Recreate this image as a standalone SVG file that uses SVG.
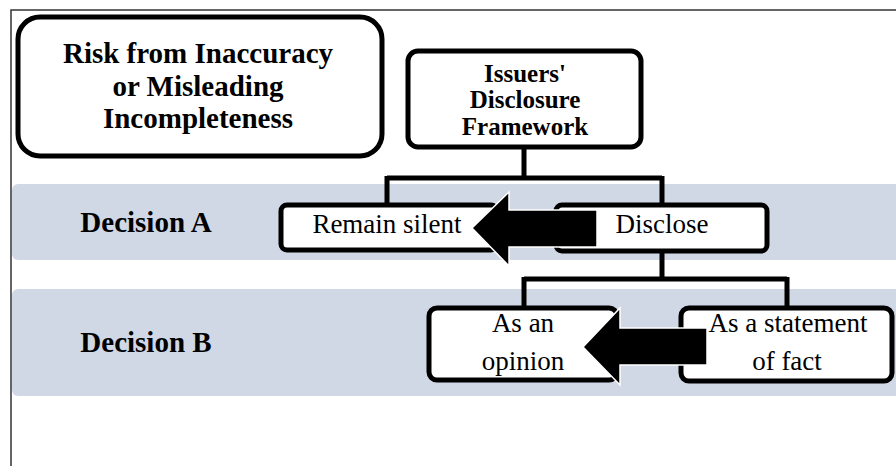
<svg xmlns="http://www.w3.org/2000/svg" width="896" height="466" viewBox="0 0 896 466">
<style>
.band{fill:#D0D7E5}
.box{fill:#fff;stroke:#000;stroke-width:5}
.conn{fill:none;stroke:#000;stroke-width:5}
.arrow{fill:#000;stroke:#fff;stroke-width:1.5}
.t{font-family:"Liberation Serif","Times New Roman",serif;fill:#000;text-anchor:middle}
.b{font-weight:bold}
</style>
<rect x="0" y="0" width="896" height="466" fill="#fff"/>
<path d="M11,466 V10 H896" fill="none" stroke="#333" stroke-width="1.5"/>
<rect class="band" x="12" y="184" width="900" height="76" rx="6"/>
<rect class="band" x="12" y="289" width="900" height="107" rx="6"/>
<g id="risk">
<rect class="box" x="18" y="17" width="364" height="139" rx="22"/>
<text class="t b" font-size="29"><tspan x="198" y="63">Risk from Inaccuracy</tspan><tspan x="198" y="96">or Misleading</tspan><tspan x="198" y="128">Incompleteness</tspan></text>
</g>
<g id="decisionA"><text class="t b" x="146" y="232" font-size="29">Decision A</text></g>
<g id="decisionB"><text class="t b" x="146" y="352" font-size="29">Decision B</text></g>
<g id="connectors">
<path class="conn" d="M524,148 V178 M387,178 H662 M387,176 V205 M662,176 V205"/>
<path class="conn" d="M662,252 V279 M524,279 H787 M524,277 V309 M787,277 V309"/>
</g>
<g id="issuers">
<rect class="box" x="408" y="51" width="233" height="96" rx="10"/>
<text class="t b" font-size="25"><tspan x="525" y="82">Issuers'</tspan><tspan x="525" y="108">Disclosure</tspan><tspan x="525" y="135">Framework</tspan></text>
</g>
<g id="silent">
<rect class="box" x="281" y="205" width="216" height="45" rx="6"/>
<text class="t" x="387" y="233" font-size="27">Remain silent</text>
</g>
<g id="disclose">
<rect class="box" x="556" y="205" width="211" height="46" rx="6"/>
<text class="t" x="662" y="233" font-size="27">Disclose</text>
</g>
<g id="opinion">
<rect class="box" x="429" y="308" width="188" height="72" rx="8"/>
<text class="t" font-size="27"><tspan x="523" y="332">As an</tspan><tspan x="523" y="370">opinion</tspan></text>
</g>
<g id="fact">
<rect class="box" x="681" y="308" width="211" height="73" rx="8"/>
<text class="t" font-size="27"><tspan x="788" y="332">As a statement</tspan><tspan x="787" y="370">of fact</tspan></text>
</g>
<g id="arrows">
<path class="arrow" d="M472,228 L509,192 V210 H597 V247 H509 V266 Z"/>
<path class="arrow" d="M583,347 L620,308 V328 H707 V365 H620 V385 Z"/>
</g>
</svg>
